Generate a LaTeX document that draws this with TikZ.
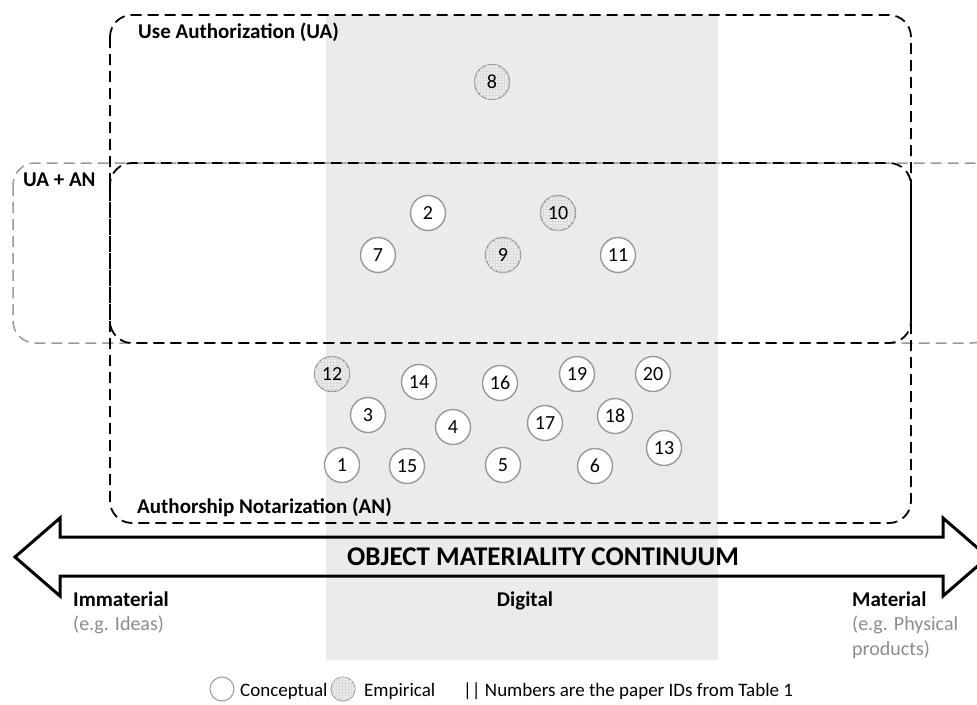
\documentclass[tikz,border=0pt]{standalone}
\usepackage{fontspec}
\setmainfont{Carlito}
\usetikzlibrary{patterns}
\tikzset{
  dashbox/.style={draw=black, line width=1.8pt, dash pattern=on 11pt off 6pt, rounded corners=22pt},
  graybox/.style={draw=black!40, line width=1.5pt, dash pattern=on 11pt off 6pt, rounded corners=22pt},
  paper/.style={circle, draw=black!40, line width=1.4pt, fill=white, minimum size=35pt, inner sep=0pt, font=\fontsize{20}{20}\selectfont},
  emp/.style={paper, fill=black!7, postaction={pattern=grid, pattern color=black!14}},
  legc/.style={circle, draw=black!40, line width=1pt, fill=white, minimum size=24pt, inner sep=0pt},
  lege/.style={legc, fill=black!7, postaction={pattern=grid, pattern color=black!14}},
  head/.style={font=\bfseries\fontsize{21}{21}\selectfont, anchor=base west, inner sep=0pt},
  note/.style={font=\fontsize{20}{20}\selectfont, text=black!45, anchor=base west, inner sep=0pt},
  legtext/.style={font=\fontsize{19}{19}\selectfont, anchor=base west, inner sep=0pt}
}
\begin{document}
\begin{tikzpicture}[x=1pt,y=-1pt]
\useasboundingbox (0,0) rectangle (977,704);
% digital band
\fill[black!8] (326,15) rectangle (718,660);
% boxes
\draw[graybox] (13,163) rectangle (994,343);
\draw[dashbox] (110,15) rectangle (911,343);
\draw[dashbox] (110,163) rectangle (911,523);
% box labels
\node[head] (ua) at (138,38) {Use Authorization (UA)};
\node[head] (uaan) at (23,186) {UA + AN};
\node[head] (an) at (137,513) {Authorship Notarization (AN)};
% continuum arrow
\draw[line width=3pt, line join=miter] (15,557) -- (60,518) -- (60,537) -- (943,537) -- (943,518) -- (988,557) -- (943,596) -- (943,576) -- (60,576) -- (60,596) -- cycle;
\node[font=\bfseries\fontsize{27}{27}\selectfont, inner sep=0pt] (omc) at (543,557) {OBJECT MATERIALITY CONTINUUM};
% ends
\node[head] (imm) at (73,606) {Immaterial};
\node[note] (immx) at (73,630) {(e.g. Ideas)};
\node[head, anchor=base] (dig) at (525,606) {Digital};
\node[head] (mat) at (852,606) {Material};
\node[note] (matx) at (852,630) {(e.g. Physical};
\node[note] (maty) at (852,655) {products)};
% papers
\node[emp] (p8) at (492,82) {8};
\node[paper] (p2) at (428,213) {2};
\node[emp] (p10) at (558,213) {10};
\node[paper] (p7) at (378,255) {7};
\node[emp] (p9) at (503,255) {9};
\node[paper] (p11) at (618,255) {11};
\node[emp] (p12) at (332,374) {12};
\node[paper] (p14) at (419,382) {14};
\node[paper] (p16) at (500,383) {16};
\node[paper] (p19) at (577,374) {19};
\node[paper] (p20) at (653,374) {20};
\node[paper] (p3) at (368,415) {3};
\node[paper] (p4) at (453,427) {4};
\node[paper] (p17) at (545,423) {17};
\node[paper] (p18) at (615,416) {18};
\node[paper] (p13) at (664,448) {13};
\node[paper] (p1) at (342,465) {1};
\node[paper] (p15) at (407,466) {15};
\node[paper] (p5) at (503,465) {5};
\node[paper] (p6) at (595,466) {6};
% legend
\node[legc] (lc) at (222,689) {};
\node[legtext] (lct) at (240,696) {Conceptual};
\node[lege] (le) at (343,689) {};
\node[legtext] (let) at (364,696) {Empirical};
\node[legtext] (lnt) at (463,696) {|| Numbers are the paper IDs from Table 1};
\end{tikzpicture}
\end{document}
